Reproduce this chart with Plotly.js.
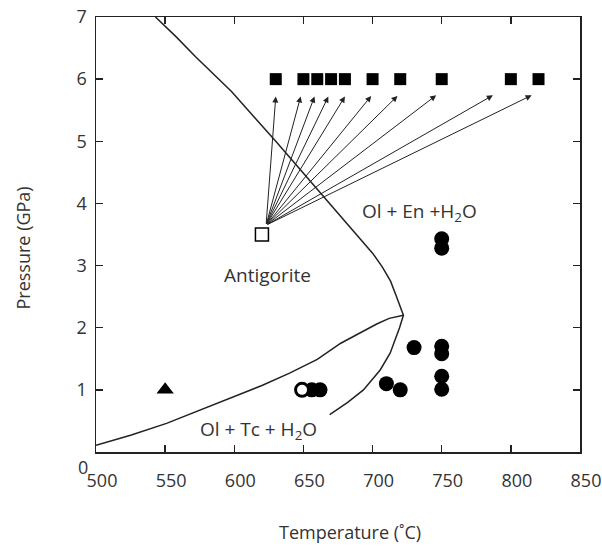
<!DOCTYPE html>
<html>
<head>
<meta charset="utf-8">
<script src="https://cdn.plot.ly/plotly-3.0.1.min.js"></script>
<style>html,body{margin:0;padding:0;background:#fff;}#chart{width:602px;height:546px;}</style>
</head>
<body>
<div id="chart"></div>
<script>
// Experiment end points (squares at 6 GPa)
const squareT = [630, 650, 660, 670, 680, 700, 720, 750, 800, 820];
const squareP = [6, 6, 6, 6, 6, 6, 6, 6, 6, 6];
// Starting material (open square)
const startT = [620];
const startP = [3.5];
// Arrow tails and tips
const arrowTailT = 623;
const arrowTailP = 3.65;
const arrowTipT = [630, 648, 658, 668, 680, 699, 718, 746, 787, 815];
const arrowTipP = [5.72, 5.72, 5.72, 5.72, 5.72, 5.73, 5.73, 5.74, 5.74, 5.74];
// Filled circles
const circleT = [750, 750, 730, 750, 750, 750, 750, 710, 720, 656, 662];
const circleP = [3.43, 3.28, 1.68, 1.70, 1.58, 1.22, 1.01, 1.10, 1.00, 1.00, 1.00];
// Open circle
const openCircleT = [649];
const openCircleP = [1.0];
// Triangle
const triT = [550];
const triP = [1.0];
// Antigorite-out curve (through apex and down Tc-out branch)
const upperT = [543, 558, 572, 585, 598, 630, 665, 690, 700, 707, 713, 717, 720, 722.3, 719.5, 716, 712.7, 705.5, 699, 693.4, 682, 669];
const upperP = [7.0, 6.68, 6.36, 6.08, 5.8, 5.0, 4.1, 3.45, 3.2, 2.98, 2.75, 2.52, 2.33, 2.2, 2.0, 1.8, 1.59, 1.32, 1.15, 1.0, 0.8, 0.6];
// Antigorite -> Ol + Tc curve
const lowerT = [500, 525, 551, 575, 599, 620, 640, 660, 677, 690, 703, 712, 722.3];
const lowerP = [0.11, 0.27, 0.46, 0.67, 0.89, 1.07, 1.27, 1.49, 1.75, 1.91, 2.06, 2.15, 2.2];
// Labels
const xTicks = [500, 550, 600, 650, 700, 750, 800, 850];
const yTicks = [0, 1, 2, 3, 4, 5, 6, 7];
const yTickText = ['', '1', '2', '3', '4', '5', '6', '7'];
const fieldLabels = [
  {text: 'Ol + En +H<sub>2</sub>O', T: 734, P: 3.87},
  {text: 'Antigorite', T: 624, P: 2.85},
  {text: 'Ol + Tc + H<sub>2</sub>O', T: 617.5, P: 0.35}
];
const xTitle = 'Temperature (˚C)';
const yTitle = 'Pressure (GPa)';

const lineCol = '#222';
const traces = [
  {x: upperT, y: upperP, mode: 'lines', line: {color: lineCol, width: 1.5}, hoverinfo: 'skip'},
  {x: lowerT, y: lowerP, mode: 'lines', line: {color: lineCol, width: 1.5}, hoverinfo: 'skip'},
  {x: squareT, y: squareP, mode: 'markers', marker: {symbol: 'square', size: 12, color: '#000'}},
  {x: startT, y: startP, mode: 'markers', marker: {symbol: 'square-open', size: 13, color: '#000', line: {width: 1.5}}},
  {x: circleT, y: circleP, mode: 'markers', marker: {symbol: 'circle', size: 15, color: '#000'}},
  {x: openCircleT, y: openCircleP, mode: 'markers', marker: {symbol: 'circle', size: 13, color: '#fff', line: {color: '#000', width: 3}}},
  {x: triT, y: triP, mode: 'markers', marker: {symbol: 'triangle-up', size: 15, color: '#000'}}
];

const font = {family: 'Open Sans, sans-serif', size: 19, color: '#333'};
const tickFont = {family: 'Open Sans, sans-serif', size: 18, color: '#333'};
const titleFont = {family: 'Open Sans, sans-serif', size: 18, color: '#333'};
const annotations = [];
arrowTipT.forEach((t, i) => {
  annotations.push({x: t, y: arrowTipP[i], xref: 'x', yref: 'y', ax: arrowTailT, ay: arrowTailP, axref: 'x', ayref: 'y',
    showarrow: true, arrowhead: 2, arrowsize: 1.2, arrowwidth: 1, arrowcolor: '#222', text: ''});
});
fieldLabels.forEach(l => {
  annotations.push({x: l.T, y: l.P, xref: 'x', yref: 'y', text: l.text, showarrow: false, font: font});
});
annotations.push({x: 0, y: 0, xref: 'paper', yref: 'y', text: '0', showarrow: false, xanchor: 'right', yanchor: 'middle', xshift: -6, yshift: -15, font: tickFont});
annotations.push({xref: 'paper', yref: 'paper', x: (350 - 96) / 484, y: -(532 - 452) / 435, xanchor: 'center', yanchor: 'middle', borderpad: 0, text: xTitle, showarrow: false, font: titleFont});
annotations.push({xref: 'paper', yref: 'paper', x: (22 - 96) / 484, y: (452 - 248.5) / 435, xanchor: 'center', yanchor: 'middle', text: yTitle, textangle: -90, showarrow: false, font: titleFont});

const layout = {
  width: 602, height: 546,
  margin: {l: 96, r: 22, t: 17, b: 94},
  paper_bgcolor: '#fff', plot_bgcolor: '#fff',
  showlegend: false,
  font: font,
  xaxis: {range: [500, 850], tickvals: xTicks, ticks: 'inside', ticklen: 7, tickwidth: 1.3, tickcolor: '#222',
    showline: true, linecolor: '#222', linewidth: 1.5, mirror: 'ticks', showgrid: false, zeroline: false,
    ticklabelshift: 6, ticklabelstandoff: 12, tickfont: tickFont},
  yaxis: {range: [0, 7], tickvals: yTicks, ticktext: yTickText, ticks: 'inside', ticklen: 7, tickwidth: 1.3, tickcolor: '#222',
    showline: true, linecolor: '#222', linewidth: 1.5, mirror: 'ticks', showgrid: false, zeroline: false,
    ticklabelstandoff: 4, tickfont: tickFont},
  annotations: annotations
};
Plotly.newPlot('chart', traces, layout, {staticPlot: true});
</script>
</body>
</html>
